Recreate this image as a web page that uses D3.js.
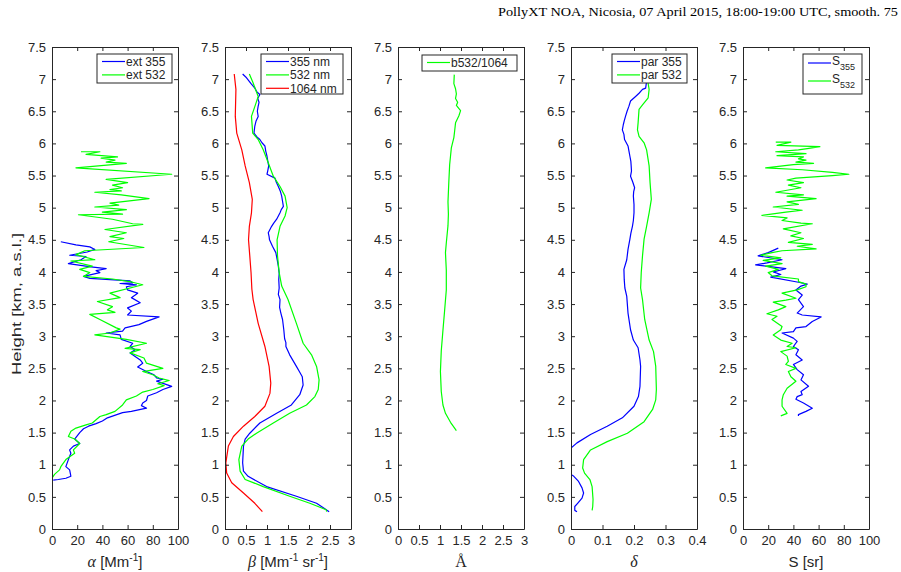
<!DOCTYPE html>
<html>
<head>
<meta charset="utf-8">
<script src="https://cdn.jsdelivr.net/npm/d3@7"></script>
<style>
  html, body { margin: 0; padding: 0; background: #fff; }
  svg text { font-family: "Liberation Sans", Arial, Helvetica, sans-serif; fill: #262626; }
</style>
</head>
<body>
<svg id="chart" width="901" height="572"></svg>
<script>
// Profiles: each point is [height in km a.s.l., value]
const ext355 = [[4.47,7],[4.42,19],[4.39,30],[4.35,34],[4.31,28],[4.26,14],[4.24,27],[4.19,23],[4.13,13],[4.08,31],[4.05,43],[4.02,35],[3.99,38],[3.93,25],[3.90,30],[3.88,46],[3.86,62],[3.83,64],[3.82,54],[3.80,67],[3.77,59],[3.72,60],[3.67,68],[3.60,63],[3.52,70],[3.44,60],[3.39,63],[3.33,60],[3.30,85],[3.23,75],[3.18,69],[3.13,58],[3.08,56],[3.05,43],[3.02,54],[2.95,55],[2.89,64],[2.84,62],[2.79,66],[2.74,62],[2.63,70],[2.58,72],[2.52,68],[2.45,75],[2.40,81],[2.35,83],[2.33,88],[2.30,83],[2.22,95],[2.17,88],[2.12,83],[2.07,76],[2.00,75],[1.96,72],[1.92,71],[1.88,75],[1.83,63],[1.81,56],[1.73,44],[1.68,40],[1.64,35],[1.60,29],[1.56,25],[1.50,22],[1.40,18],[1.33,22],[1.29,17],[1.23,14],[1.18,15],[1.08,13],[0.97,11],[0.92,14],[0.82,15],[0.79,11],[0.77,5],[0.76,1]];
const ext532 = [[5.87,23],[5.87,38],[5.83,27],[5.79,52],[5.77,39],[5.74,50],[5.71,43],[5.69,59],[5.62,19],[5.52,95],[5.44,43],[5.39,60],[5.35,48],[5.31,56],[5.28,46],[5.26,55],[5.24,34],[5.20,55],[5.14,77],[5.07,46],[5.04,53],[5.01,34],[4.97,59],[4.93,40],[4.90,56],[4.89,21],[4.82,48],[4.75,64],[4.74,72],[4.66,42],[4.61,59],[4.55,46],[4.52,57],[4.47,45],[4.38,73],[4.33,26],[4.27,19],[4.19,34],[4.17,15],[4.09,32],[4.04,22],[3.99,30],[3.93,25],[3.89,48],[3.84,64],[3.80,72],[3.67,46],[3.60,54],[3.54,36],[3.46,48],[3.41,44],[3.37,50],[3.34,30],[3.26,38],[3.13,51],[3.11,54],[3.05,46],[3.02,34],[2.95,59],[2.89,75],[2.81,58],[2.79,70],[2.74,62],[2.66,73],[2.58,75],[2.50,88],[2.45,72],[2.40,80],[2.35,85],[2.31,93],[2.26,84],[2.23,89],[2.17,80],[2.13,72],[2.07,67],[2.01,59],[1.93,56],[1.83,50],[1.78,43],[1.75,38],[1.70,35],[1.65,32],[1.62,27],[1.57,19],[1.52,15],[1.44,13],[1.40,18],[1.33,22],[1.23,17],[1.18,18],[1.08,11],[0.97,7],[0.92,6],[0.85,2],[0.79,0]];

const bsc355 = [[7.08,0.42],[7.03,0.50],[6.99,0.55],[6.93,0.62],[6.86,0.71],[6.80,0.76],[6.76,0.83],[6.70,0.78],[6.64,0.81],[6.58,0.79],[6.50,0.77],[6.42,0.79],[6.35,0.74],[6.27,0.71],[6.16,0.69],[6.10,0.76],[6.06,0.83],[6.01,0.88],[5.96,0.95],[5.88,0.97],[5.80,1.00],[5.72,1.02],[5.65,1.04],[5.58,1.02],[5.52,1.00],[5.46,1.19],[5.40,1.22],[5.33,1.27],[5.25,1.32],[5.18,1.35],[5.10,1.37],[5.02,1.39],[4.97,1.34],[4.92,1.31],[4.82,1.23],[4.76,1.16],[4.71,1.11],[4.61,1.03],[4.55,1.05],[4.50,1.06],[4.40,1.13],[4.30,1.21],[4.20,1.24],[4.09,1.27],[3.98,1.29],[3.88,1.28],[3.75,1.29],[3.65,1.27],[3.57,1.31],[3.45,1.30],[3.36,1.33],[3.26,1.37],[3.10,1.40],[2.96,1.42],[2.90,1.45],[2.84,1.45],[2.71,1.54],[2.62,1.62],[2.53,1.70],[2.45,1.77],[2.37,1.84],[2.24,1.86],[2.09,1.78],[1.93,1.58],[1.80,1.23],[1.65,0.83],[1.49,0.59],[1.40,0.48],[1.29,0.44],[1.03,0.42],[0.90,0.44],[0.82,0.55],[0.66,0.99],[0.51,1.70],[0.40,2.18],[0.27,2.48]];
const bsc532 = [[7.08,0.58],[6.94,0.67],[6.73,0.79],[6.63,0.74],[6.42,0.63],[6.16,0.66],[6.06,0.79],[5.90,0.91],[5.70,1.03],[5.49,1.15],[5.33,1.31],[5.18,1.43],[5.00,1.48],[4.87,1.43],[4.71,1.31],[4.50,1.24],[4.25,1.25],[3.99,1.29],[3.78,1.35],[3.57,1.50],[3.20,1.70],[2.89,1.86],[2.71,2.06],[2.53,2.18],[2.32,2.24],[2.17,2.22],[2.06,2.14],[1.93,1.94],[1.80,1.54],[1.65,1.15],[1.49,0.75],[1.40,0.55],[1.29,0.40],[1.08,0.33],[0.90,0.36],[0.77,0.48],[0.66,0.91],[0.51,1.54],[0.40,2.02],[0.30,2.41],[0.27,2.42]];
const bsc1064 = [[7.08,0.22],[6.84,0.26],[6.42,0.245],[6.16,0.28],[5.90,0.40],[5.65,0.48],[5.39,0.58],[5.13,0.65],[4.92,0.63],[4.71,0.58],[4.50,0.56],[4.25,0.59],[3.99,0.62],[3.73,0.64],[3.57,0.67],[3.20,0.79],[2.84,0.95],[2.53,1.05],[2.27,1.09],[2.11,1.07],[1.91,0.95],[1.75,0.71],[1.60,0.44],[1.44,0.20],[1.29,0.08],[1.03,0.02],[0.87,0.04],[0.72,0.16],[0.56,0.44],[0.40,0.71],[0.27,0.89]];

const angstrom = [[7.07,1.34],[6.93,1.33],[6.85,1.37],[6.77,1.39],[6.70,1.37],[6.64,1.42],[6.59,1.39],[6.51,1.49],[6.43,1.45],[6.32,1.37],[6.20,1.35],[6.09,1.33],[5.93,1.27],[5.80,1.25],[5.67,1.23],[5.40,1.21],[5.09,1.19],[4.90,1.20],[4.72,1.19],[4.45,1.15],[4.30,1.13],[4.03,1.15],[3.72,1.15],[3.40,1.11],[3.09,1.07],[2.77,1.03],[2.45,1.01],[2.14,1.03],[1.93,1.07],[1.80,1.13],[1.66,1.25],[1.53,1.39]];

const par355 = [[6.97,0.240],[6.86,0.237],[6.84,0.227],[6.78,0.216],[6.73,0.205],[6.66,0.189],[6.58,0.184],[6.50,0.178],[6.42,0.173],[6.35,0.169],[6.29,0.166],[6.21,0.163],[6.14,0.168],[6.06,0.170],[5.96,0.181],[5.88,0.184],[5.80,0.187],[5.72,0.190],[5.65,0.191],[5.57,0.192],[5.49,0.189],[5.40,0.196],[5.31,0.202],[5.25,0.199],[5.18,0.198],[5.05,0.200],[4.92,0.200],[4.80,0.198],[4.71,0.195],[4.60,0.190],[4.51,0.187],[4.35,0.181],[4.19,0.177],[4.04,0.168],[3.88,0.169],[3.75,0.171],[3.62,0.177],[3.36,0.181],[3.10,0.189],[2.94,0.198],[2.82,0.213],[2.63,0.219],[2.53,0.221],[2.22,0.219],[2.06,0.214],[1.91,0.200],[1.73,0.163],[1.60,0.115],[1.47,0.062],[1.34,0.019],[1.26,0.000],[1.15,-0.020],[1.00,-0.030],[0.90,-0.010],[0.85,0.000],[0.82,0.009],[0.74,0.024],[0.64,0.035],[0.56,0.040],[0.48,0.035],[0.40,0.021],[0.35,0.012],[0.29,0.012],[0.27,0.019]];
const par532 = [[6.99,0.243],[6.84,0.248],[6.71,0.245],[6.60,0.227],[6.53,0.216],[6.32,0.213],[6.21,0.211],[6.11,0.216],[6.01,0.232],[5.90,0.240],[5.65,0.248],[5.39,0.251],[5.13,0.255],[4.92,0.248],[4.71,0.240],[4.51,0.232],[4.25,0.227],[3.99,0.223],[3.75,0.221],[3.57,0.227],[3.26,0.234],[2.94,0.248],[2.76,0.262],[2.53,0.269],[2.17,0.271],[2.01,0.269],[1.86,0.259],[1.67,0.232],[1.49,0.179],[1.36,0.115],[1.23,0.062],[1.08,0.040],[0.95,0.037],[0.87,0.043],[0.77,0.060],[0.66,0.067],[0.46,0.070],[0.35,0.069],[0.29,0.067]];

const lidar355 = [[4.37,28],[4.30,20],[4.25,12],[4.19,31],[4.14,19],[4.11,10],[4.05,34],[4.00,24],[3.96,30],[3.92,22],[3.84,44],[3.81,51],[3.78,46],[3.72,42],[3.64,47],[3.57,44],[3.46,48],[3.36,43],[3.33,47],[3.30,62],[3.23,55],[3.15,50],[3.13,42],[3.07,40],[3.05,31],[2.97,40],[2.92,43],[2.84,40],[2.79,44],[2.71,42],[2.63,47],[2.56,40],[2.48,43],[2.40,48],[2.32,46],[2.22,52],[2.14,46],[2.09,47],[2.06,43],[2.02,42],[1.96,48],[1.88,55],[1.83,50],[1.78,44],[1.76,44]];
const lidar532 = [[6.02,26],[6.02,38],[5.97,27],[5.95,61],[5.92,51],[5.90,44],[5.87,26],[5.84,50],[5.81,27],[5.79,48],[5.76,44],[5.74,50],[5.71,42],[5.69,56],[5.67,40],[5.62,18],[5.59,47],[5.55,71],[5.52,84],[5.50,71],[5.46,42],[5.43,35],[5.39,48],[5.35,36],[5.31,46],[5.24,26],[5.20,48],[5.18,35],[5.14,58],[5.09,35],[5.05,44],[5.01,24],[4.96,47],[4.93,34],[4.88,15],[4.84,35],[4.80,31],[4.76,46],[4.75,55],[4.67,32],[4.61,46],[4.56,38],[4.52,48],[4.46,36],[4.43,55],[4.40,43],[4.36,58],[4.33,31],[4.30,23],[4.26,14],[4.22,30],[4.18,16],[4.13,31],[4.09,18],[4.04,28],[3.99,20],[3.94,23],[3.89,44],[3.85,44],[3.81,50],[3.77,50],[3.72,43],[3.67,31],[3.59,42],[3.56,34],[3.53,24],[3.46,34],[3.41,28],[3.35,19],[3.31,27],[3.26,23],[3.15,31],[3.10,30],[3.02,24],[2.94,30],[2.89,39],[2.84,35],[2.82,42],[2.76,30],[2.69,35],[2.61,36],[2.56,34],[2.50,42],[2.45,36],[2.37,38],[2.30,42],[2.19,35],[2.09,32],[2.01,31],[1.91,31],[1.80,35],[1.76,30]];

const heightTicks = d3.range(0, 7.51, 0.5);
const fmt = v => String(+v.toFixed(2));

const panels = [
  { left: 52,  domain: [0, 100], ticks: [0,20,40,60,80,100], series: [
      { data: ext355, color: "#0000ff", name: "ext 355" },
      { data: ext532, color: "#00ff00", name: "ext 532" }],
    legend: { x: 97, y: 54, w: 75, h: 29 }, label: "alpha" },
  { left: 225, domain: [0, 3], ticks: [0,0.5,1,1.5,2,2.5,3], series: [
      { data: bsc355, color: "#0000ff", name: "355 nm" },
      { data: bsc532, color: "#00ff00", name: "532 nm" },
      { data: bsc1064, color: "#ff0000", name: "1064 nm" }],
    legend: { x: 261, y: 54, w: 82, h: 40 }, label: "beta" },
  { left: 398, domain: [0, 3], ticks: [0,0.5,1,1.5,2,2.5,3], series: [
      { data: angstrom, color: "#00ff00", name: "b532/1064" }],
    legend: { x: 422, y: 55, w: 95, h: 16 }, label: "angstrom" },
  { left: 571, domain: [0, 0.4], ticks: [0,0.1,0.2,0.3,0.4], series: [
      { data: par355, color: "#0000ff", name: "par 355" },
      { data: par532, color: "#00ff00", name: "par 532" }],
    legend: { x: 612, y: 54, w: 75, h: 29 }, label: "delta" },
  { left: 743, domain: [0, 100], ticks: [0,20,40,60,80,100], series: [
      { data: lidar355, color: "#0000ff", name: "S", sub: "355" },
      { data: lidar532, color: "#00ff00", name: "S", sub: "532" }],
    legend: { x: 803, y: 54, w: 59, h: 40 }, label: "S" }
];

const W = 126, TOP = 47, BOTTOM = 529;
const AXIS = "#262626";
const svg = d3.select("#chart");
const y = d3.scaleLinear().domain([0, 7.5]).range([BOTTOM, TOP]);

// Title
svg.append("text")
  .attr("x", 898).attr("y", 16)
  .attr("text-anchor", "end")
  .attr("textLength", 400)
  .attr("lengthAdjust", "spacingAndGlyphs")
  .style("font-family", "'Liberation Serif', 'Times New Roman', serif")
  .style("font-size", "13px")
  .style("fill", "#000")
  .text("PollyXT NOA, Nicosia, 07 April 2015, 18:00-19:00 UTC, smooth. 75");

// Height label
svg.append("text")
  .attr("transform", "translate(21,304) rotate(-90)")
  .attr("text-anchor", "middle")
  .attr("textLength", 142)
  .attr("lengthAdjust", "spacingAndGlyphs")
  .style("font-size", "13px")
  .text("Height [km, a.s.l.]");

const defs = svg.append("defs");

panels.forEach((p, i) => {
  const x = d3.scaleLinear().domain(p.domain).range([p.left, p.left + W]);
  const g = svg.append("g");

  defs.append("clipPath").attr("id", "clip" + i)
    .append("rect").attr("x", p.left).attr("y", TOP).attr("width", W).attr("height", BOTTOM - TOP);

  // profiles
  const line = d3.line().x(d => x(d[1])).y(d => y(d[0]));
  p.series.forEach(s => {
    g.append("path")
      .attr("d", line(s.data))
      .attr("clip-path", "url(#clip" + i + ")")
      .attr("fill", "none")
      .attr("stroke", s.color)
      .attr("stroke-width", 1.2)
      .attr("stroke-linejoin", "round");
  });

  // axes: ticks inward on all four sides
  const tl = 4;
  const axB = d3.axisBottom(x).tickValues(p.ticks).tickSizeInner(-tl).tickSizeOuter(0).tickPadding(7).tickFormat(fmt);
  const axT = d3.axisTop(x).tickValues(p.ticks).tickSizeInner(-tl).tickSizeOuter(0).tickFormat("");
  const axL = d3.axisLeft(y).tickValues(heightTicks).tickSizeInner(-tl).tickSizeOuter(0).tickPadding(6).tickFormat(fmt);
  const axR = d3.axisRight(y).tickValues(heightTicks).tickSizeInner(-tl).tickSizeOuter(0).tickFormat("");

  [[axB, "translate(0," + BOTTOM + ")"], [axT, "translate(0," + TOP + ")"],
   [axL, "translate(" + p.left + ",0)"], [axR, "translate(" + (p.left + W) + ",0)"]].forEach(([ax, tr]) => {
    const a = g.append("g").attr("transform", tr).call(ax);
    a.select(".domain").attr("stroke", AXIS).attr("stroke-width", 1);
    a.selectAll(".tick line").attr("stroke", AXIS);
    a.selectAll(".tick text").style("font-size", "13px").style("font-family", "'Liberation Sans', Arial, sans-serif").attr("fill", AXIS);
  });

  // x label
  const lab = g.append("text")
    .attr("x", p.left + W / 2).attr("y", 567)
    .attr("text-anchor", "middle")
    .style("font-size", "15px");
  const greek = t => lab.append("tspan").style("font-family", "'Liberation Serif', 'Times New Roman', serif").style("font-style", "italic").style("font-size", "16px").text(t);
  const sup = t => lab.append("tspan").attr("dy", -6).style("font-size", "10px").text(t);
  const back = t => lab.append("tspan").attr("dy", 6).text(t);
  if (p.label === "alpha") {
    greek("α"); lab.append("tspan").text(" [Mm"); sup("-1"); back("]");
  } else if (p.label === "beta") {
    greek("β"); lab.append("tspan").text(" [Mm"); sup("-1"); back(" sr"); sup("-1"); back("]");
  } else if (p.label === "angstrom") {
    lab.append("tspan").style("font-family", "'Liberation Serif', 'Times New Roman', serif").style("font-size", "16px").text("Å");
  } else if (p.label === "delta") {
    greek("δ");
  } else {
    lab.text("S [sr]");
  }

  // legend
  const L = p.legend;
  const lg = g.append("g");
  lg.append("rect").attr("x", L.x).attr("y", L.y).attr("width", L.w).attr("height", L.h)
    .attr("fill", "#fff").attr("stroke", AXIS).attr("stroke-width", 1);
  const sub = p.series.some(s => s.sub);
  const rowH = sub ? 18 : 13.4;
  p.series.forEach((s, k) => {
    const cy = L.y + (sub ? 9 : 7.5) + rowH * k;
    lg.append("line").attr("x1", L.x + 5).attr("x2", L.x + 28).attr("y1", cy).attr("y2", cy)
      .attr("stroke", s.color).attr("stroke-width", 1.2);
    const t = lg.append("text").attr("x", L.x + 29).attr("y", cy + 4.2).style("font-size", "12px");
    if (s.sub) {
      t.attr("y", cy + 2);
      t.append("tspan").text(s.name);
      t.append("tspan").attr("dy", 5).style("font-size", "9px").text(s.sub);
    } else {
      t.text(s.name);
    }
  });
});
</script>
</body>
</html>
